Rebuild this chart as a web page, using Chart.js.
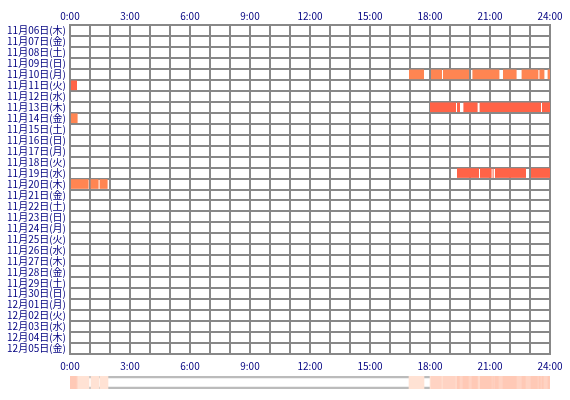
<!DOCTYPE html>
<html>
<head>
<meta charset="utf-8">
<script src="https://cdn.jsdelivr.net/npm/chart.js@4/dist/chart.umd.min.js"></script>
<style>
  body { margin: 0; background: #fff; }
  #wrap { position: relative; width: 570px; height: 400px; }
  #main { position: absolute; left: 0; top: 0; }
  #summary { position: absolute; left: 0; top: 375px; }
</style>
</head>
<body>
<div id="wrap">
  <canvas id="main" width="570" height="372"></canvas>
  <canvas id="summary" width="570" height="15"></canvas>
</div>
<script>
// rows (one per day)
const days = [
    '11月06日(木)', '11月07日(金)', '11月08日(土)', '11月09日(日)', '11月10日(月)',
    '11月11日(火)', '11月12日(水)', '11月13日(木)', '11月14日(金)', '11月15日(土)',
    '11月16日(日)', '11月17日(月)', '11月18日(火)', '11月19日(水)', '11月20日(木)',
    '11月21日(金)', '11月22日(土)', '11月23日(日)', '11月24日(月)', '11月25日(火)',
    '11月26日(水)', '11月27日(木)', '11月28日(金)', '11月29日(土)', '11月30日(日)',
    '12月01日(月)', '12月02日(火)', '12月03日(水)', '12月04日(木)', '12月05日(金)'
];
const hourLabels = ['0:00', '3:00', '6:00', '9:00', '12:00', '15:00', '18:00', '21:00', '24:00'];

// active periods, [start hour, end hour]
const nov10 = [[16.95, 17.7], [18.05, 18.6], [18.65, 19.95], [20.12, 21.47], [21.65, 22.33], [22.58, 23.42], [23.47, 23.72], [23.88, 24]];
const nov11 = [[0, 0.35]];
const nov13 = [[18.0, 19.3], [19.35, 19.5], [19.67, 20.38], [20.48, 23.55], [23.6, 24]];
const nov14 = [[0, 0.38]];
const nov19 = [[19.35, 20.45], [20.5, 21.08], [21.13, 21.18], [21.25, 22.8], [23.05, 24]];
const nov20 = [[0, 0.93], [1.03, 1.43], [1.48, 1.88]];

const rows = [
    { day: '11月10日(月)', segs: nov10, color: '#FF8552' },
    { day: '11月11日(火)', segs: nov11, color: '#FF6347' },
    { day: '11月13日(木)', segs: nov13, color: '#FF6347' },
    { day: '11月14日(金)', segs: nov14, color: '#FF8552' },
    { day: '11月19日(水)', segs: nov19, color: '#FF6347' },
    { day: '11月20日(木)', segs: nov20, color: '#FF8552' }
];

const textColor = '#000080';
const gridColor = '#888888';
const font = { family: "'Noto Sans CJK JP', 'DejaVu Sans', sans-serif", size: 10 };

function hourTick(v) {
    return v % 3 === 0 ? hourLabels[v / 3] : '';
}

new Chart(document.getElementById('main'), {
    type: 'bar',
    data: {
        labels: days,
        datasets: rows.map(r => ({
            data: r.segs.map(s => ({ y: r.day, x: s })),
            backgroundColor: r.color,
            borderWidth: 0,
            grouped: false,
            barPercentage: 0.88,
            categoryPercentage: 1
        }))
    },
    options: {
        indexAxis: 'y',
        responsive: false,
        animation: false,
        layout: { padding: { left: 0, right: 20, top: 0, bottom: 0 } },
        plugins: { legend: { display: false }, tooltip: { enabled: false } },
        scales: {
            x: {
                type: 'linear', position: 'top', min: 0, max: 24,
                afterFit: s => { s.height = 25; },
                ticks: { stepSize: 1, autoSkip: false, maxRotation: 0, color: textColor, font: font, padding: 3, callback: hourTick },
                grid: { color: gridColor, lineWidth: 2, drawTicks: false },
                border: { color: gridColor, width: 2 }
            },
            x2: {
                type: 'linear', position: 'bottom', min: 0, max: 24,
                afterFit: s => { s.height = 18; },
                ticks: { stepSize: 1, autoSkip: false, maxRotation: 0, color: textColor, font: font, padding: 6, callback: hourTick },
                grid: { display: false, drawTicks: false },
                border: { color: gridColor, width: 2 }
            },
            y: {
                type: 'category', offset: true,
                afterFit: s => { s.width = 70; },
                ticks: { autoSkip: false, color: textColor, font: font, padding: 4 },
                grid: { offset: true, color: gridColor, lineWidth: 2, drawTicks: false },
                border: { color: gridColor, width: 2 }
            }
        }
    }
});

// summary strip: how many days were active in each slot
const slot = 0.05;
const summarySegs = [];
let runStart = 0, runCount = -1;
for (let i = 0; i <= 24 / slot; i++) {
    const mid = (i + 0.5) * slot;
    let count = 0;
    if (i < 24 / slot) {
        rows.forEach(r => { if (r.segs.some(s => mid >= s[0] && mid < s[1])) count++; });
    } else {
        count = -2;
    }
    if (count !== runCount) {
        if (runCount > 0) summarySegs.push({ x: [runStart, i * slot], c: runCount });
        runStart = i * slot;
        runCount = count;
    }
}
const shades = ['#FFFFFF', '#FFE2D4', '#FFD3C3', '#FFC9B6'];

new Chart(document.getElementById('summary'), {
    type: 'bar',
    data: {
        labels: ['all'],
        datasets: [
            {
                data: summarySegs.map(s => ({ y: 'all', x: s.x })),
                backgroundColor: summarySegs.map(s => shades[Math.min(s.c, 3)]),
                borderWidth: 0, grouped: false, barPercentage: 1, categoryPercentage: 1
            },
            {
                data: [{ y: 'all', x: [0, 24] }],
                backgroundColor: 'rgba(0,0,0,0)',
                borderColor: '#BBBBBB', borderWidth: 2, borderSkipped: false,
                grouped: false, barPercentage: 1, categoryPercentage: 1
            }
        ]
    },
    options: {
        indexAxis: 'y',
        responsive: false,
        animation: false,
        layout: { padding: { left: 70, right: 20, top: 1, bottom: 1 } },
        plugins: { legend: { display: false }, tooltip: { enabled: false } },
        scales: {
            x: { type: 'linear', min: 0, max: 24, display: false },
            y: { display: false }
        }
    }
});
</script>
</body>
</html>
